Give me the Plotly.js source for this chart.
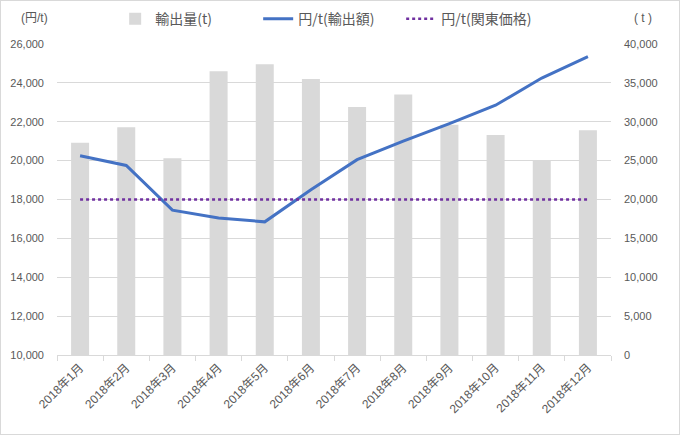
<!DOCTYPE html>
<html><head><meta charset="utf-8">
<script src="https://cdn.plot.ly/plotly-3.0.1.min.js"></script>
<style>html,body{margin:0;padding:0;background:#fff}#c{width:680px;height:435px;box-sizing:border-box;border:1px solid #d9d9d9}</style>
</head><body><div id="c"></div>
<script>
const months = ["2018年1月","2018年2月","2018年3月","2018年4月","2018年5月","2018年6月","2018年7月","2018年8月","2018年9月","2018年10月","2018年11月","2018年12月"];
const exportVolume = [27300, 29300, 25300, 36500, 37400, 35500, 31900, 33500, 29600, 28300, 25000, 28900];
const exportPrice = [20250, 19750, 17450, 17050, 16850, 18500, 20050, 21000, 21900, 22850, 24250, 25350];
const kantoPrice = [18000, 18000, 18000, 18000, 18000, 18000, 18000, 18000, 18000, 18000, 18000, 18000];
const leftTicks = [10000,12000,14000,16000,18000,20000,22000,24000,26000];
const rightTicks = [0,5000,10000,15000,20000,25000,30000,35000,40000];

const FONT = "Liberation Sans, Noto Sans CJK JP, sans-serif";
const fmt = v => v.toLocaleString('en-US');

const traces = [
  {type:'bar', name:'輸出量(t)', x:months, y:exportVolume, yaxis:'y', marker:{color:'#d9d9d9'}},
  {type:'scatter', mode:'lines', name:'円/t(輸出額)', x:months, y:exportPrice, yaxis:'y2', line:{color:'#4472c4', width:3}},
  {type:'scatter', mode:'lines', name:'円/t(関東価格)', x:months, y:kantoPrice, yaxis:'y2', line:{color:'#7030a0', width:2.5, dash:'dot'}}
];

const layout = {
  width:678, height:433,
  margin:{l:56, r:68, t:43, b:79},
  paper_bgcolor:'#fff', plot_bgcolor:'#fff',
  font:{family:FONT, size:11, color:'#595959'},
  bargap:0.61,
  showlegend:true,
  legend:{orientation:'h', x:0.105, xanchor:'left', y:0.958, yref:'container', yanchor:'middle', font:{family:"Noto Sans CJK JP, sans-serif", size:14, color:'#595959'}, itemwidth:30, entrywidth:98, entrywidthmode:'pixels', traceorder:'normal', bgcolor:'rgba(0,0,0,0)'},
  xaxis:{type:'category', tickangle:-45, showgrid:false, showline:true, linecolor:'#d9d9d9', ticks:'outside', tickson:'boundaries', ticklen:5, tickcolor:'#d9d9d9', tickfont:{size:12}},
  yaxis:{side:'right', range:[0,40000], tickvals:rightTicks, ticktext:rightTicks.map(fmt), showgrid:true, gridcolor:'#d9d9d9', zeroline:false, ticks:'', ticklabelstandoff:12},
  yaxis2:{side:'left', overlaying:'y', range:[10000,26000], tickvals:leftTicks, ticktext:leftTicks.map(fmt), showgrid:false, zeroline:false, ticks:'', ticklabelstandoff:12},
  annotations:[
    {xref:'paper', yref:'paper', x:-0.04, y:1.084, xanchor:'center', yanchor:'middle', text:'(円/t)', showarrow:false, font:{size:12, color:'#595959'}},
    {xref:'paper', yref:'paper', x:1.058, y:1.084, xanchor:'center', yanchor:'middle', text:'( t )', showarrow:false, font:{size:12, color:'#595959'}}
  ]
};
Plotly.newPlot('c', traces, layout, {displayModeBar:false, staticPlot:true});
</script></body></html>
